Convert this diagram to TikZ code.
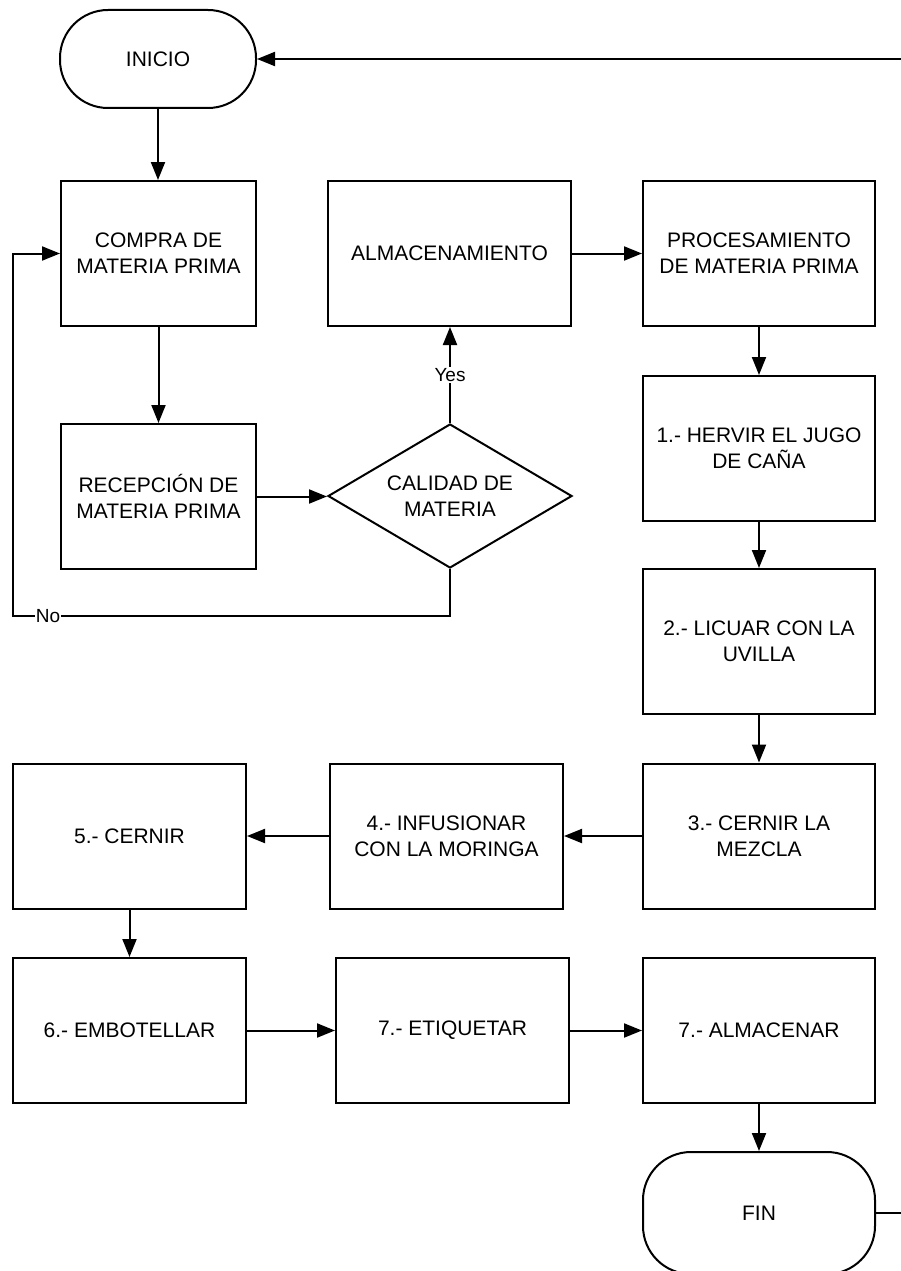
\documentclass[tikz,border=0pt]{standalone}
\usepackage{fontspec}
\setmainfont{Liberation Sans}
\usetikzlibrary{arrows.meta,shapes.geometric}
\begin{document}
\begin{tikzpicture}[x=1pt,y=-1pt,
  every node/.style={font=\fontsize{21}{26}\selectfont},
  stepbox/.style={draw,line width=2pt,minimum width=#1,minimum height=145pt,
    inner sep=0pt,align=center},
  stepbox/.default=233pt,
  terminal/.style={draw,line width=2pt,inner sep=0pt,align=center},
  decision/.style={diamond,draw,line width=2pt,aspect=1.69,minimum width=244pt,
    minimum height=144pt,inner sep=0pt,align=center},
  flow/.style={line width=2pt,-{Triangle[length=18pt,width=14pt]}},
  lbl/.style={fill=white,inner sep=1pt,font=\fontsize{19}{22}\selectfont}]

\useasboundingbox (0,0) rectangle (901,1271);
\clip (0,0) rectangle (901,1271);

% terminals
\node[terminal,minimum width=196pt,minimum height=98pt,rounded corners=48pt]
  (inicio) at (158,59) {INICIO};
\node[terminal,minimum width=232pt,minimum height=122pt,rounded corners=48pt]
  (fin) at (759,1213) {FIN};

% raw material stage
\node[stepbox=195pt] (compra) at (158.5,253.5) {COMPRA DE\\MATERIA PRIMA};
\node[stepbox=243pt] (alm)    at (449.5,253.5) {ALMACENAMIENTO};
\node[stepbox=232pt] (proc)   at (759,253.5)   {PROCESAMIENTO\\DE MATERIA PRIMA};
\node[stepbox=195pt] (recep)  at (158.5,496.5) {RECEPCIÓN DE\\MATERIA PRIMA};
\node[decision]      (cal)    at (450,496)     {CALIDAD DE\\MATERIA};

% processing steps
\node[stepbox=232pt] (s1) at (759,448.5)  {1.- HERVIR EL JUGO\\DE CAÑA};
\node[stepbox=232pt] (s2) at (759,641.5)  {2.- LICUAR CON LA\\UVILLA};
\node[stepbox=232pt] (s3) at (759,836)    {3.- CERNIR LA\\MEZCLA};
\node[stepbox]       (s4) at (446.5,836)  {4.- INFUSIONAR\\CON LA MORINGA};
\node[stepbox]       (s5) at (129.5,836)  {5.- CERNIR};
\node[stepbox]       (s6) at (129.5,1030.5) {6.- EMBOTELLAR};
\node[stepbox]       (s7) at (452.5,1030.5) {7.- ETIQUETAR};
\node[stepbox=232pt] (s8) at (759,1030.5)   {7.- ALMACENAR};

% connectors
\draw[flow] (inicio.south) -- (inicio.south |- compra.north);
\draw[flow] (compra) -- (recep);
\draw[flow] (recep) -- (recep.east -| cal.west);
\draw[flow] (cal.north) -- (cal.north |- alm.south) node[lbl,midway] (yes) {Yes};
\coordinate (nobend) at (13,616);
\draw[flow] (cal.south) |- (nobend) node[lbl,pos=0.96] (no) {No} |- (compra.west);
\draw[flow] (alm) -- (proc);
\draw[flow] (proc) -- (s1);
\draw[flow] (s1) -- (s2);
\draw[flow] (s2) -- (s3);
\draw[flow] (s3) -- (s4);
\draw[flow] (s4) -- (s5);
\draw[flow] (s5) -- (s6);
\draw[flow] (s6) -- (s7);
\draw[flow] (s7) -- (s8);
\draw[flow] (s8) -- (fin);
\draw[flow] (fin.east) -- ++(40,0) |- (inicio.east);
\end{tikzpicture}
\end{document}
